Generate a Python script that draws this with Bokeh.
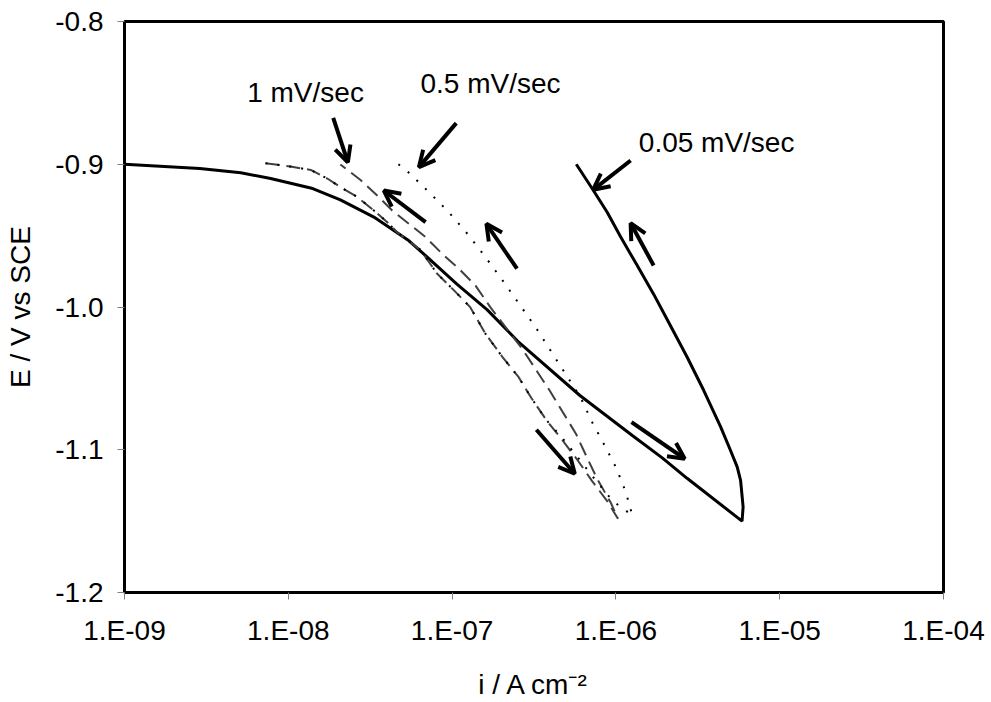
from bokeh.plotting import figure
from bokeh.models import (Range1d, FixedTicker, CustomJSTickFormatter, Arrow, OpenHead,
                          Label, ColumnDataSource)
from bokeh.embed import file_html
from bokeh.resources import INLINE

# ---------------- data ----------------
# 0.05 mV/sec : solid loop (cathodic scan then return)
slow_i = [1.00e-9, 2.88e-9, 5.13e-9, 7.80e-9, 1.41e-8, 2.08e-8, 3.33e-8, 5.37e-8, 7.05e-8,
          1.07e-7, 1.64e-7, 2.57e-7, 6.03e-7, 1.26e-6, 1.91e-6, 2.72e-6, 5.89e-6,
          5.98e-6, 5.77e-6, 5.50e-6, 5.01e-6, 4.36e-6, 3.44e-6, 2.72e-6, 2.15e-6, 1.70e-6,
          1.35e-6, 1.07e-6, 8.85e-7, 7.16e-7, 5.73e-7]
slow_E = [-0.900, -0.903, -0.906, -0.910, -0.917, -0.925, -0.937, -0.953, -0.965,
          -0.984, -1.002, -1.025, -1.062, -1.090, -1.1055, -1.120, -1.150,
          -1.140, -1.1215, -1.112, -1.1005, -1.084, -1.0585, -1.035, -1.013, -0.991,
          -0.971, -0.951, -0.9336, -0.917, -0.900]

# 1 mV/sec : dashed loop
fast_i = [7.26e-9, 1.03e-8, 1.37e-8, 1.73e-8, 2.08e-8, 2.64e-8, 3.33e-8, 4.02e-8, 4.62e-8,
          6.41e-8, 8.11e-8, 1.02e-7, 1.29e-7, 1.60e-7, 2.02e-7, 2.55e-7, 3.04e-7, 3.75e-7,
          4.59e-7, 5.81e-7, 7.16e-7, 8.85e-7, 1.03e-6,
          9.27e-7, 7.74e-7, 6.67e-7, 5.71e-7, 3.94e-7, 2.68e-7, 1.71e-7, 1.39e-7, 1.10e-7,
          8.69e-8, 6.89e-8, 5.45e-8, 4.31e-8, 3.57e-8, 2.76e-8, 2.08e-8]
fast_E = [-0.8993, -0.9016, -0.904, -0.910, -0.916, -0.923, -0.9324, -0.9406, -0.9476,
          -0.960, -0.9767, -0.988, -1.0001, -1.0188, -1.0347, -1.0492, -1.0636, -1.079,
          -1.0916, -1.107, -1.122, -1.136, -1.1484,
          -1.1367, -1.121, -1.1056, -1.0889, -1.0585, -1.0293, -1.0001, -0.985, -0.9732,
          -0.9627, -0.951, -0.9417, -0.9324, -0.923, -0.911, -0.9002]

# 0.5 mV/sec : dotted loop
mid_i = [7.26e-9, 1.03e-8, 1.37e-8, 1.73e-8, 2.08e-8, 2.64e-8, 3.33e-8, 4.02e-8, 4.62e-8,
         6.41e-8, 8.11e-8, 1.02e-7, 1.29e-7, 1.60e-7, 2.02e-7, 2.55e-7, 3.04e-7, 3.75e-7,
         4.70e-7, 6.00e-7, 7.60e-7, 9.60e-7, 1.26e-6,
         1.15e-6, 1.00e-6, 8.43e-7, 7.16e-7, 6.08e-7, 4.92e-7, 3.99e-7, 3.23e-7, 2.88e-7,
         2.07e-7, 1.60e-7, 1.24e-7, 9.55e-8, 7.24e-8, 5.45e-8, 4.66e-8]
mid_E = [-0.8993, -0.9016, -0.904, -0.910, -0.916, -0.923, -0.9324, -0.9406, -0.9476,
         -0.960, -0.9767, -0.988, -1.0001, -1.0188, -1.0347, -1.0492, -1.0636, -1.079,
         -1.0916, -1.107, -1.122, -1.136, -1.146,
         -1.1297, -1.1122, -1.0958, -1.0807, -1.0632, -1.0468, -1.0305, -1.0141, -1.006,
         -0.9826, -0.9651, -0.9487, -0.9336, -0.9196, -0.906, -0.8997]

# arrows (tail -> head)
arrow_tail_i = [1.23e-6, 1.70e-6, 1.245e-6, 3.27e-7, 6.89e-8, 2.49e-7, 1.88e-8, 1.06e-7]
arrow_tail_E = [-0.8974, -0.9709, -1.0807, -1.086, -0.9406, -0.9732, -0.8675, -0.8712]
arrow_head_i = [7.26e-7, 1.23e-6, 2.63e-6, 5.61e-7, 3.83e-8, 1.62e-7, 2.31e-8, 6.27e-8]
arrow_head_E = [-0.9179, -0.9413, -1.1063, -1.1168, -0.9184, -0.9417, -0.8986, -0.902]

# annotations
ann_text = ["1 mV/sec", "0.5 mV/sec", "0.05 mV/sec"]
ann_i = [5.61e-9, 6.41e-8, 1.38e-6]
ann_E = [-0.8495, -0.8436, -0.8846]

x_tick_values = [1e-9, 1e-8, 1e-7, 1e-6, 1e-5, 1e-4]
x_tick_labels = ["1.E-09", "1.E-08", "1.E-07", "1.E-06", "1.E-05", "1.E-04"]
y_tick_values = [-1.2, -1.1, -1.0, -0.9, -0.8]
y_tick_labels = ["-1.2", "-1.1", "-1.0", "-0.9", "-0.8"]

FONT = "Liberation Sans"
FS = "28px"

# ---------------- figure ----------------
p = figure(width=991, height=702, x_axis_type="log",
           x_range=Range1d(1e-9, 1e-4), y_range=Range1d(-1.2, -0.8),
           output_backend="svg", toolbar_location=None,
           min_border_left=124, min_border_right=48, min_border_top=21, min_border_bottom=110)
p.background_fill_color = "white"
p.border_fill_color = "white"
p.outline_line_color = "black"
p.outline_line_width = 3
p.grid.visible = False

p.xaxis.ticker = FixedTicker(ticks=x_tick_values)
p.xaxis.formatter = CustomJSTickFormatter(args=dict(vals=x_tick_values, labs=x_tick_labels), code="""
let best = 0, bd = Infinity;
for (let k = 0; k < vals.length; k++) {
  const d = Math.abs(Math.log10(tick) - Math.log10(vals[k]));
  if (d < bd) { bd = d; best = k; }
}
return labs[best];
""")
p.yaxis.ticker = FixedTicker(ticks=y_tick_values)
p.yaxis.formatter = CustomJSTickFormatter(args=dict(vals=y_tick_values, labs=y_tick_labels), code="""
let best = 0, bd = Infinity;
for (let k = 0; k < vals.length; k++) {
  const d = Math.abs(tick - vals[k]);
  if (d < bd) { bd = d; best = k; }
}
return labs[best];
""")

for ax in (p.xaxis[0], p.yaxis[0]):
    ax.axis_line_color = None
    ax.major_tick_out = 7
    ax.major_tick_in = 0
    ax.major_tick_line_color = "#808080"
    ax.major_tick_line_width = 1
    ax.minor_tick_line_color = None
    ax.major_label_text_font = FONT
    ax.major_label_text_font_size = FS
    ax.major_label_text_color = "black"
    ax.axis_label_text_font = FONT
    ax.axis_label_text_font_size = FS
    ax.axis_label_text_font_style = "normal"
    ax.axis_label_text_color = "black"

p.xaxis.axis_label = "i / A cm\u207b\u00b2"
p.yaxis.axis_label = "E / V vs SCE"
p.xaxis.major_label_standoff = 15
p.yaxis.major_label_standoff = 14
p.xaxis.axis_label_standoff = 20
p.yaxis.axis_label_standoff = 16

# ---------------- curves ----------------
p.line(slow_i, slow_E, line_color="black", line_width=3)
p.line(fast_i, fast_E, line_color="#404040", line_width=2, line_dash="14 7")
p.line(mid_i, mid_E, line_color="black", line_width=2, line_dash="2 10")

# ---------------- arrows ----------------
asrc = ColumnDataSource(dict(xs=arrow_tail_i, ys=arrow_tail_E, xe=arrow_head_i, ye=arrow_head_E))
p.add_layout(Arrow(source=asrc, x_start="xs", y_start="ys", x_end="xe", y_end="ye",
                   line_color="black", line_width=4,
                   end=OpenHead(size=16, line_width=4, line_color="black")))

# ---------------- annotations ----------------
for t, xi, ye in zip(ann_text, ann_i, ann_E):
    p.add_layout(Label(x=xi, y=ye, text=t, text_font=FONT, text_font_size=FS,
                       text_color="black", text_baseline="middle", text_align="left"))

open("out.html", "w").write(file_html(p, INLINE))
